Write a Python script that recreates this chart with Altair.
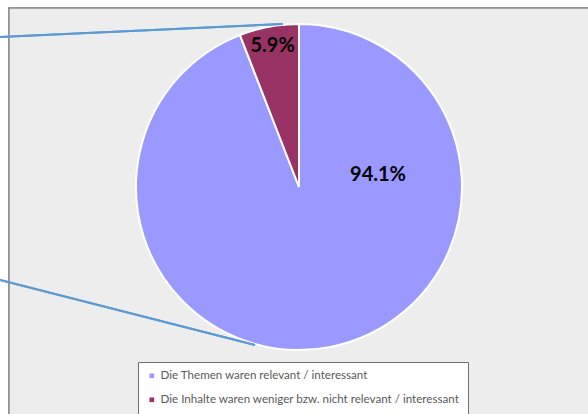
import altair as alt
import pandas as pd

# Survey answers and their shares (percent)
answers = [
    "Die Themen waren relevant / interessant",
    "Die Inhalte waren weniger bzw. nicht relevant / interessant",
]
shares = [94.1, 5.9]
slice_colors = ["#9999FF", "#993366"]
label_texts = ["94.1%", "5.9%"]

df = pd.DataFrame(
    {"answer": answers, "share": shares, "order": [0, 1], "label": label_texts}
)

W, H = 588, 414
CX, CY, R = 299, 187, 163
FONT = "Lato"

# Grey plot frame
frame = alt.Chart(df).mark_rect(
    fill="#EDEDED", stroke="#8C8C8C", strokeWidth=1.5
).encode(
    x=alt.value(9), y=alt.value(8), x2=alt.value(W + 10), y2=alt.value(H + 10)
)

color = alt.Color(
    "answer:N",
    scale=alt.Scale(domain=answers, range=slice_colors),
    sort=answers,
    legend=alt.Legend(
        title=None,
        orient="none",
        legendX=138,
        legendY=362,
        padding=8,
        fillColor="white",
        strokeColor="#707070",
        symbolType="square",
        symbolSize=22,
        symbolStrokeWidth=0,
        labelFont=FONT,
        labelFontSize=11.6,
        labelColor="#595959",
        labelLimit=0,
        rowPadding=11,
        labelOffset=3,
    ),
)

theta_scale = alt.Scale(domain=[0, 100], range=[0, 6.283185307179586])

pie = alt.Chart(df).mark_arc(
    radius=R, stroke="white", strokeWidth=2
).encode(
    theta=alt.Theta("share:Q", stack=True, scale=theta_scale),
    order=alt.Order("order:Q"),
    color=color,
    x=alt.value(CX),
    y=alt.value(CY),
)

# Midpoint angle of each slice, used to place the small slice label
base_lbl = alt.Chart(df).transform_window(
    cum="sum(share)", sort=[alt.SortField("order")]
).transform_calculate(mid="datum.cum - datum.share / 2")

small_label = base_lbl.transform_filter("datum.order == 1").mark_text(
    font=FONT, fontSize=20, fontWeight="bold", color="black"
).encode(
    theta=alt.Theta("mid:Q", stack=False, scale=theta_scale),
    radius=alt.value(143),
    text="label:N",
    x=alt.value(CX),
    y=alt.value(CY),
)

big_label = base_lbl.transform_filter("datum.order == 0").mark_text(
    font=FONT, fontSize=20, fontWeight="bold", color="black", dx=79, dy=-12
).encode(
    text="label:N",
    x=alt.value(CX),
    y=alt.value(CY),
)

# Blue connector lines running in from the left
line_a = alt.Chart(df).mark_rule(color="#5B9BD5", strokeWidth=2).encode(
    x=alt.value(0), y=alt.value(37), x2=alt.value(283), y2=alt.value(24)
)
line_b = alt.Chart(df).mark_rule(color="#5B9BD5", strokeWidth=2).encode(
    x=alt.value(0), y=alt.value(280), x2=alt.value(255), y2=alt.value(345)
)

chart = alt.layer(
    frame, pie, small_label, big_label, line_a, line_b
).properties(
    width=W, height=H, padding=0, autosize=alt.AutoSizeParams(type="none"),
    background="white",
).configure_view(stroke=None)

chart.save("out.html", embed_options={"renderer": "svg", "actions": False})
